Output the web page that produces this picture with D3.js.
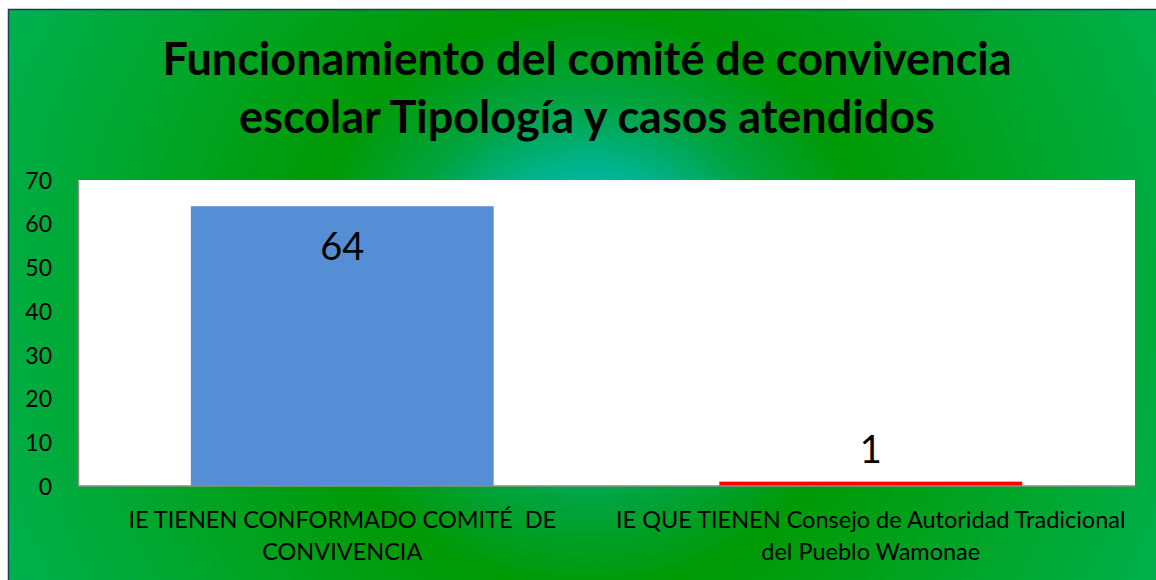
<!DOCTYPE html>
<html>
<head>
<meta charset="utf-8">
<script src="https://cdn.jsdelivr.net/npm/d3@7"></script>
<style>
  body { margin: 0; background: #fff; }
  svg text { font-family: Lato, "Open Sans", sans-serif; fill: #000; }
</style>
</head>
<body>
<div id="chart"></div>
<script>
// chart data
const titleLines = ["Funcionamiento del comité de convivencia", "escolar Tipología y casos atendidos"];
const categories = ["IE TIENEN CONFORMADO COMITÉ  DE CONVIVENCIA", "IE QUE TIENEN Consejo de Autoridad Tradicional del Pueblo Wamonae"];
const categoryLines = [["IE TIENEN CONFORMADO COMITÉ  DE", "CONVIVENCIA"], ["IE QUE TIENEN Consejo de Autoridad Tradicional", "del Pueblo Wamonae"]];
const values = [64, 1];
const barColors = ["#558ED5", "#FF0000"];
const yTicks = [0, 10, 20, 30, 40, 50, 60, 70];

const W = 1156, H = 580;
const plot = { left: 78, right: 1135, top: 180, bottom: 486 };

const svg = d3.select("#chart").append("svg")
    .attr("width", W)
    .attr("height", H);

// background gradient like the office preset
const grad = svg.append("defs").append("radialGradient")
    .attr("id", "bg")
    .attr("gradientUnits", "userSpaceOnUse")
    .attr("cx", 588).attr("cy", 300).attr("r", 660);
[[0, "#00c2ac"], [0.19, "#00b596"], [0.3, "#00a440"], [0.44, "#009a05"], [1, "#00b252"]]
    .forEach(s => grad.append("stop").attr("offset", s[0]).attr("stop-color", s[1]));

svg.append("rect")
    .attr("x", 8.5).attr("y", 9.5)
    .attr("width", W).attr("height", H)
    .attr("fill", "url(#bg)")
    .attr("stroke", "#1f3a5a")
    .attr("stroke-width", 1.5);

svg.append("rect")
    .attr("x", plot.left).attr("y", plot.top)
    .attr("width", plot.right - plot.left)
    .attr("height", plot.bottom - plot.top)
    .attr("fill", "#fff");

// title
svg.append("g").selectAll("text")
    .data(titleLines)
    .join("text")
    .attr("x", 587)
    .attr("y", (d, i) => 75 + i * 58)
    .attr("text-anchor", "middle")
    .attr("font-size", 45)
    .attr("font-weight", "bold")
    .text(d => d);

// scales
const x = d3.scaleBand()
    .domain(categories)
    .range([plot.left, plot.right])
    .paddingInner(0.427)
    .paddingOuter(0.2135);

const y = d3.scaleLinear()
    .domain([0, 70])
    .range([plot.bottom, plot.top]);

// y axis
const yAxis = svg.append("g")
    .attr("transform", `translate(${plot.left},0)`)
    .call(d3.axisLeft(y).tickValues(yTicks).tickSize(0).tickPadding(26));
yAxis.select(".domain").attr("stroke", "#8c8c8c").attr("stroke-width", 1.5);
yAxis.selectAll("text")
    .attr("font-size", 23)
    .attr("dy", "0.36em")
    .style("font-family", "Lato, sans-serif");

// bars
svg.append("g").selectAll("rect")
    .data(values)
    .join("rect")
    .attr("x", (d, i) => x(categories[i]))
    .attr("y", d => y(d))
    .attr("width", x.bandwidth())
    .attr("height", d => y(0) - y(d))
    .attr("fill", (d, i) => barColors[i]);

// x axis line
svg.append("line")
    .attr("x1", plot.left).attr("x2", plot.right)
    .attr("y1", plot.bottom).attr("y2", plot.bottom)
    .attr("stroke", "#8c8c8c")
    .attr("stroke-width", 1.5);

// value labels
svg.append("g").selectAll("text")
    .data(values)
    .join("text")
    .attr("x", (d, i) => x(categories[i]) + x.bandwidth() / 2)
    .attr("y", d => (y(0) - y(d) > 60) ? y(d) + 54 : y(d) - 19)
    .attr("text-anchor", "middle")
    .attr("font-size", 38)
    .text(d => d);

// category labels
const catG = svg.append("g").selectAll("text")
    .data(categoryLines)
    .join("text")
    .attr("text-anchor", "middle")
    .attr("font-size", 23.5)
    .style("white-space", "pre");
catG.selectAll("tspan")
    .data((d, i) => d.map(t => ({ t, i })))
    .join("tspan")
    .attr("x", d => x(categories[d.i]) + x.bandwidth() / 2)
    .attr("y", (d, j) => 528 + j * 32)
    .text(d => d.t);
</script>
</body>
</html>
